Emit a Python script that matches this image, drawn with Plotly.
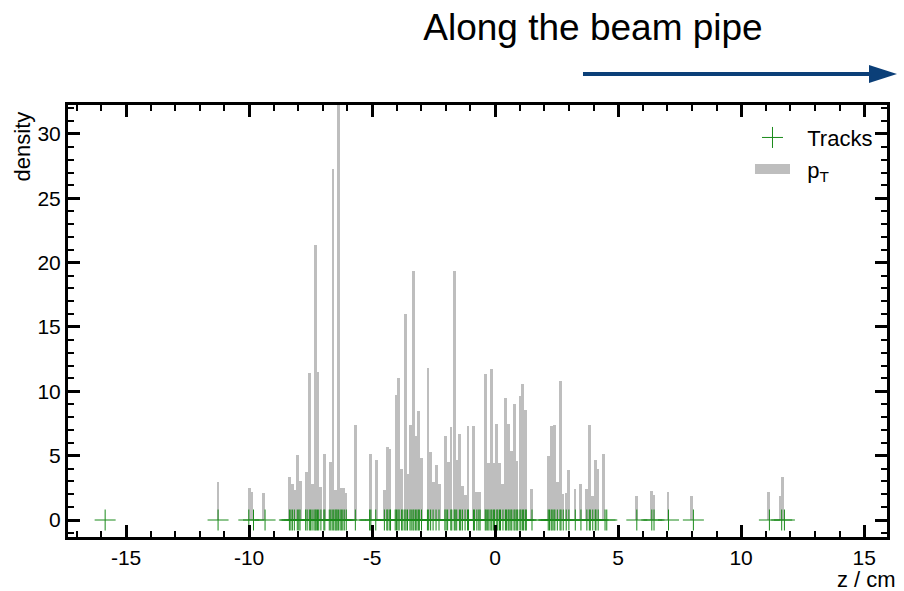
import plotly.graph_objects as go

# ---- data ----
bin_centers = [
    -11.26, -9.99, -9.89, -9.42,
    -8.35, -8.25, -8.15, -8.02, -7.92, -7.67, -7.53, -7.43, -7.31, -7.20, -7.08, -6.95,
    -6.70, -6.59, -6.48, -6.38, -6.28, -6.17, -6.06, -5.68,
    -5.07, -4.83, -4.49, -4.38, -4.27, -4.03, -3.92, -3.79, -3.65, -3.54, -3.43, -3.32,
    -3.21, -3.10, -2.98, -2.73, -2.62, -2.51, -2.38, -2.27, -2.02, -1.91, -1.79, -1.65,
    -1.54, -1.43, -1.32, -1.21, -1.10, -0.87, -0.74, -0.63, -0.38, -0.28, -0.16, -0.05,
    0.07, 0.19, 0.31, 0.43, 0.54, 0.65, 0.78, 0.89, 1.02, 1.13, 1.24, 1.49,
    2.18, 2.29, 2.40, 2.52, 2.65, 2.76, 2.88, 3.00, 3.25, 3.48, 3.73, 3.84, 3.96, 4.07,
    4.18, 4.42,
    5.75, 6.35, 6.45, 7.03, 7.97, 11.11, 11.58, 11.69,
]
pt_density = [
    2.97, 2.52, 2.14, 2.08,
    3.37, 2.77, 2.33, 5.05, 3.0, 3.75, 11.4, 2.77, 21.4, 11.5, 2.6, 5.1,
    4.5, 27.3, 2.33, 33.0, 2.5, 2.5, 2.1, 7.4,
    5.1, 4.7, 2.33, 5.65, 5.55, 9.7, 11.06, 4.0, 16.0, 3.6, 7.38, 19.35,
    6.5, 8.47, 4.8, 11.8, 5.3, 2.98, 4.27, 2.8, 6.55, 4.5, 7.25, 19.35,
    4.66, 6.7, 2.64, 1.94, 7.3, 7.3, 2.15, 2.15, 11.34, 4.4, 11.7, 4.45,
    7.46, 4.45, 2.8, 9.5, 7.46, 5.4, 9.0, 4.6, 9.6, 10.6, 8.55, 2.38,
    5.0, 7.33, 7.4, 2.93, 10.8, 2.0, 2.1, 3.85, 2.4, 2.77, 2.43, 7.38, 1.9, 4.66,
    3.96, 5.1,
    1.9, 2.28, 1.94, 2.18, 1.86, 2.18, 1.9, 3.37,
]
track_z = [
    -15.85, -11.26, -10.01, -9.82, -9.35,
    -8.36, -8.30, -8.24, -8.16, -8.04, -7.98, -7.93, -7.70, -7.64, -7.55, -7.50,
    -7.44, -7.36, -7.31, -7.27, -7.22, -7.17, -7.08, -6.96, -6.92, -6.74, -6.68,
    -6.62, -6.56, -6.50, -6.46, -6.42, -6.37, -6.30, -6.25, -6.19, -6.13, -6.05,
    -5.68, -5.10, -5.05, -4.85, -4.50, -4.40, -4.36, -4.28, -4.25, -4.06, -4.01,
    -3.95, -3.90, -3.80, -3.75, -3.67, -3.62, -3.56, -3.46, -3.41, -3.34, -3.30,
    -3.23, -3.18, -3.12, -3.08, -2.99, -2.75, -2.70, -2.62, -2.52, -2.40, -2.28,
    -2.04, -1.99, -1.93, -1.80, -1.76, -1.66, -1.62, -1.56, -1.45, -1.40, -1.33,
    -1.22, -1.12, -1.08, -0.88, -0.84, -0.74, -0.66, -0.61, -0.40, -0.36, -0.30,
    -0.25, -0.17, -0.13, -0.06, -0.02, 0.07, 0.11, 0.18, 0.22, 0.32, 0.42, 0.46,
    0.53, 0.57, 0.64, 0.68, 0.77, 0.81, 0.88, 0.92, 1.01, 1.05, 1.12, 1.16, 1.23,
    1.27, 1.50, 2.16, 2.21, 2.28, 2.32, 2.39, 2.43, 2.53, 2.64, 2.68, 2.77, 2.89,
    3.00, 3.26, 3.49, 3.73, 3.83, 3.87, 3.97, 4.07, 4.10, 4.19, 4.47, 4.54,
    5.76, 6.37, 6.46, 7.05, 8.06, 11.15, 11.65, 11.76,
]
track_y = [0] * len(track_z)

x_ticks = [-15, -10, -5, 0, 5, 10, 15]
y_ticks = [0, 5, 10, 15, 20, 25, 30]

FONT = "Liberation Sans, Arial, Helvetica, sans-serif"
BAR_COL = "#bebebe"
TRACK_COL = "#1a8a1a"
NB = "\u00a0\u00a0"

fig = go.Figure()
fig.add_trace(go.Bar(
    x=bin_centers, y=pt_density, width=0.115,
    marker=dict(color=BAR_COL, line=dict(width=0)),
    name="p<sub>T</sub>", showlegend=False,
))
fig.add_trace(go.Scatter(
    x=track_z, y=track_y, mode="markers",
    marker=dict(symbol="cross-thin", size=15, color=TRACK_COL,
                line=dict(color=TRACK_COL, width=1)),
    name=NB + "Tracks", legendrank=1,
))
# legend entry for the pT histogram (wide filled patch like the reference)
fig.add_trace(go.Scatter(
    x=[None], y=[None], mode="lines",
    line=dict(color=BAR_COL, width=17),
    name=NB + "p<sub>T</sub>", legendrank=2,
))

axis_common = dict(
    showline=True, linewidth=3, linecolor="black", mirror="ticks",
    ticks="inside", ticklen=12, tickwidth=2.5, tickcolor="black",
    showgrid=False, zeroline=False,
    tickfont=dict(family=FONT, size=21, color="black"),
)
fig.update_xaxes(
    range=[-17.36, 15.93], tickvals=x_ticks, ticktext=[str(v) for v in x_ticks],
    minor=dict(ticks="inside", ticklen=6, tickwidth=2, tickcolor="black", dtick=1, showgrid=False),
    **axis_common,
)
fig.update_yaxes(
    range=[-1.32, 32.25], tickvals=y_ticks, ticktext=[str(v) for v in y_ticks],
    minor=dict(ticks="inside", ticklen=6, tickwidth=2, tickcolor="black", dtick=1, showgrid=False),
    **axis_common,
)

# arrow "along the beam pipe" (paper coords)
arrow_col = "#0b3f78"
fig.add_shape(type="line", xref="paper", yref="paper",
              x0=0.6288, x1=0.9817, y0=1.0718, y1=1.0718,
              line=dict(color=arrow_col, width=4))
fig.add_shape(type="path", xref="paper", yref="paper",
              path="M 0.9780 1.0926 L 1.0122 1.0718 L 0.9780 1.0509 Z",
              fillcolor=arrow_col, line=dict(color=arrow_col, width=0))

fig.add_annotation(text="density", xref="paper", yref="paper", x=-0.056, y=0.99,
                   xanchor="center", yanchor="top", textangle=-90, showarrow=False,
                   font=dict(family=FONT, size=22, color="black"))
fig.add_annotation(text="z / cm", xref="paper", yref="paper", x=1.0134, y=-0.0995,
                   xanchor="right", yanchor="middle", showarrow=False,
                   font=dict(family=FONT, size=22, color="black"))

fig.update_layout(
    width=904, height=591,
    margin=dict(l=68, r=17, t=105, b=54),
    paper_bgcolor="white", plot_bgcolor="white",
    bargap=0,
    title=dict(text="Along the beam pipe", x=593 / 904, xanchor="center",
               y=1 - 27 / 591, yanchor="middle",
               font=dict(family=FONT, size=37, color="black")),
    legend=dict(x=0.989, xanchor="right", y=0.973, yanchor="top",
                bgcolor="rgba(0,0,0,0)", font=dict(family=FONT, size=22, color="black"),
                itemwidth=35, tracegroupgap=0),
    showlegend=True,
)

fig.write_html("out.html")
